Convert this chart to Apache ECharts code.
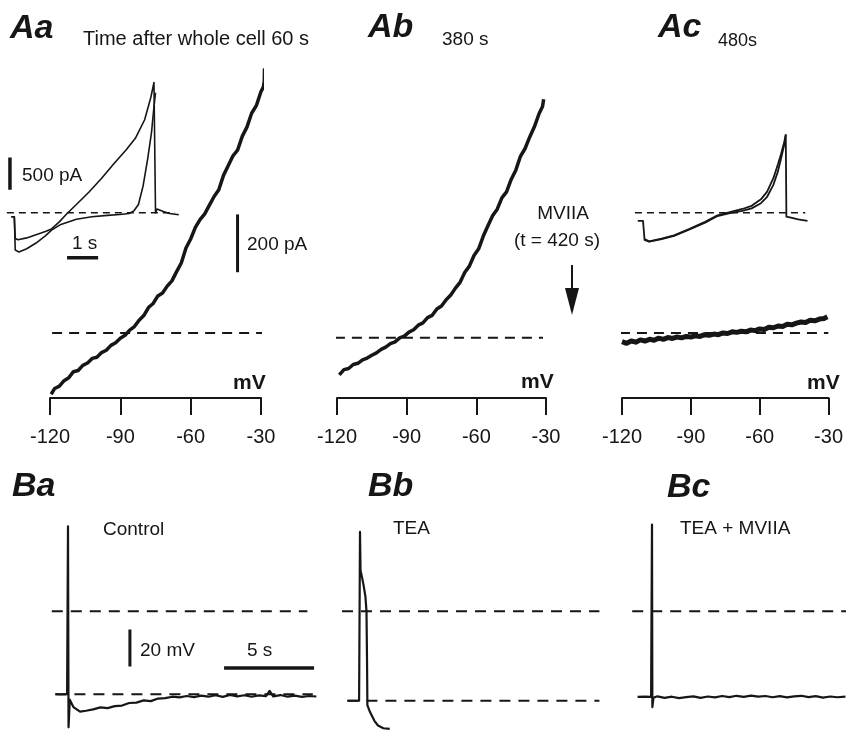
<!DOCTYPE html>
<html>
<head>
<meta charset="utf-8">
<script src="https://cdn.jsdelivr.net/npm/echarts@6/dist/echarts.min.js"></script>
<style>
  html, body { margin: 0; padding: 0; background: #fff; }
  #chart { width: 846px; height: 731px; }
</style>
</head>
<body>
<div id="chart"></div>
<script>
// ---- A: ramp I-V curves (mV, pA) ----
const ivAaMv = [-119.5,-118,-116,-114,-112,-110,-108,-106,-104,-102,-100,-98,-96,-94,-92,-90,-88,-86,-84,-82,-80,-78,-76,-74,-72,-70,-68,-66,-64,-62,-60,-58,-56,-54,-52,-50,-48,-46,-44,-42,-40,-38,-36,-34,-32,-30,-29,-28.6,-28.5];
const ivAaPa = [-212,-192,-184,-165,-155,-134,-130,-112,-104,-88,-84,-68,-60,-43,-34,-18,-8,10,22,44,60,88,102,128,138,162,180,212,242,294,325,365,392,412,442,472,495,545,578,612,632,680,712,760,786,835,850,870,915];

const ivAbMv = [-119,-117,-115,-113,-111,-109,-107,-105,-103,-101,-99,-97,-95,-93,-91,-89,-87,-85,-83,-81,-79,-77,-75,-73,-71,-69,-67,-65,-63,-61,-59,-57,-55,-53,-51,-49,-47,-45,-43,-41,-39,-37,-35,-33,-31.5,-31];
const ivAbPa = [-128,-110,-106,-92,-88,-76,-70,-60,-52,-40,-32,-20,-14,0,6,20,28,44,52,70,78,100,110,132,148,172,192,226,248,285,308,352,388,422,445,484,505,548,580,628,655,695,730,775,800,825];

const ivAcMv = [-120,-118,-116,-114,-112,-110,-108,-106,-104,-102,-100,-98,-96,-94,-92,-90,-88,-86,-84,-82,-80,-78,-76,-74,-72,-70,-68,-66,-64,-62,-60,-58,-56,-54,-52,-50,-48,-46,-44,-42,-40,-38,-36,-34,-32,-30.5];
const ivAcPa = [-30,-36,-28,-32,-24,-28,-22,-25,-18,-22,-16,-19,-14,-17,-12,-14,-10,-12,-6,-8,-4,-6,0,-2,4,2,6,4,10,8,14,12,20,18,24,22,30,28,34,38,36,44,42,48,50,56];

const mvTicks = [-120, -90, -60, -30];

// ---- A insets: current vs time (s, pA) ----
const insAa1T = [-0.1,0,0.03,0.12,0.4,0.7,1.0,1.2,1.45,1.7,2.0,2.4,2.8,3.2,3.6,3.9,4.2,4.4,4.5,4.55,4.6,4.8,5.0,5.3];
const insAa1Pa = [-60,-60,-400,-420,-390,-340,-290,-250,-140,-10,130,320,530,760,980,1160,1450,1800,2030,0,60,20,-10,-30];
const insAa2T = [-0.1,0,0.03,0.15,0.4,0.7,1.0,1.2,1.5,2.0,2.5,3.0,3.4,3.7,3.85,4.0,4.15,4.3,4.42,4.5,4.55];
const insAa2Pa = [-60,-60,-580,-610,-560,-470,-360,-270,-180,-100,-60,-40,-25,-10,30,130,420,850,1250,1650,1870];

const insAc1T = [-0.17,0,0.05,0.2,0.6,1.0,1.5,2.0,2.4,2.8,3.2,3.5,3.8,4.0,4.2,4.35,4.45,4.55,4.6,4.62,4.8,5.0,5.3];
const insAc1Pa = [-125,-125,-420,-450,-410,-360,-260,-155,-50,-5,30,70,150,250,435,650,850,1060,1215,-60,-80,-100,-125];
const insAc2T = [0.05,0.2,0.6,1.0,1.5,2.0,2.4,2.8,3.2,3.5,3.8,4.0,4.2,4.35,4.45,4.55,4.6];
const insAc2Pa = [-410,-445,-400,-350,-250,-140,-40,10,60,110,210,330,540,760,920,1100,1215];

// ---- B: membrane potential (s, mV) ----
const baT = [-0.7,-0.4,-0.05,0,0.03,0.1,0.3,0.67,1.0,1.4,1.8,2.2,2.6,3.0,3.4,3.8,4.2,4.6,5.0,5.4,5.8,6.2,6.6,7.0,7.4,7.8,8.2,8.6,9.0,9.4,9.8,10.2,10.6,11.0,11.2,11.4,11.8,12.2,12.6,13.0,13.4,13.8];
const baMv = [-45,-45.2,-45,46,-63,-48,-52,-54.5,-54,-53.3,-52.2,-52.6,-51.5,-51.2,-49.8,-49.6,-48.4,-48.8,-47.4,-47.2,-46.4,-46.8,-46,-46.6,-45.8,-46.4,-45.6,-46.5,-45.4,-46.2,-45.6,-46.4,-45.7,-46.1,-43.2,-46.2,-45.5,-46.4,-45.8,-46.5,-46,-46.3];

const bbT = [-0.7,-0.05,0,0.03,0.1,0.2,0.3,0.36,0.39,0.41,0.55,0.8,1.0,1.3,1.65];
const bbMv = [-48.6,-48.6,43,22,19,14,8,0,-26,-51,-54.6,-59.5,-62,-63.5,-63.8];

const bcT = [-0.8,-0.4,-0.05,0,0.02,0.08,0.3,0.7,1.1,1.5,1.9,2.3,2.7,3.1,3.5,3.9,4.3,4.7,5.1,5.5,5.9,6.3,6.7,7.1,7.5,7.9,8.3,8.7,9.1,9.5,9.9,10.3,10.75];
const bcMv = [-46.5,-46.3,-46.5,47,-52,-47,-46.2,-47,-46.4,-47.2,-46.6,-46.2,-47,-46.3,-46.8,-46,-46.6,-45.9,-46.5,-45.8,-46.4,-46,-46.7,-46.1,-46.8,-46.2,-45.9,-46.6,-46.1,-46.9,-46.3,-46.7,-46.4];

// reference (dashed) levels
const baLevels = [0, -45];
const bbLevels = [0, -48.6];
const bcLevels = [0];

const ink = '#161616';
const font = '"Liberation Sans", Arial, Helvetica, sans-serif';

const zip = (xs, ys) => xs.map((x, i) => [x, ys[i]]);

function trace(xs, ys, idx, width) {
  return {
    type: 'line', xAxisIndex: idx, yAxisIndex: idx, data: zip(xs, ys),
    symbol: 'none', clip: false, silent: true, z: 3,
    lineStyle: { color: ink, width: width, join: 'round' }
  };
}
function dashed(x0, x1, y, idx, pattern, width) {
  return {
    type: 'line', xAxisIndex: idx, yAxisIndex: idx, data: [[x0, y], [x1, y]],
    symbol: 'none', clip: false, silent: true, z: 2,
    lineStyle: { color: ink, width: width, type: pattern }
  };
}
function bar(xs, ys, idx, width) {
  return {
    type: 'line', xAxisIndex: idx, yAxisIndex: idx, data: zip(xs, ys),
    symbol: 'none', clip: false, silent: true, z: 3,
    lineStyle: { color: ink, width: width, cap: 'butt' }
  };
}

const myChart = echarts.init(document.getElementById('chart'));

const mvAxis = (idx) => ({
  gridIndex: idx, type: 'value', min: -120, max: -30, interval: 30,
  axisLine: { show: true, onZero: false, lineStyle: { color: ink, width: 2 } },
  axisTick: { show: true, inside: false, length: 17, lineStyle: { color: ink, width: 2 } },
  axisLabel: {
    show: true, color: ink, fontSize: 20, fontFamily: font, margin: 29,
    showMinLabel: true, showMaxLabel: true,
    customValues: mvTicks
  },
  splitLine: { show: false }
});
const hiddenX = (idx, min, max) => ({ gridIndex: idx, type: 'value', min, max, show: false, splitLine: { show: false } });
const hiddenY = (idx, min, max) => ({ gridIndex: idx, type: 'value', min, max, show: false, splitLine: { show: false } });

const label = (text, x, y, size) => ({
  type: 'text', x: x, y: y, silent: true,
  style: {
    text: text, fill: ink, fontSize: size, fontFamily: font,
    textAlign: 'left', textVerticalAlign: 'middle'
  }
});

function styled(text, x, y, size, weight, styleExtra) {
  const el = label(text, x, y, size);
  el.style.fontWeight = weight;
  Object.assign(el.style, styleExtra || {});
  return el;
}

let option = {
  backgroundColor: '#fff',
  animation: false,
  grid: [
    { left: 50, top: 65.5, width: 211, height: 332.5 },   // Aa
    { left: 337, top: 65.5, width: 209, height: 332.5 },  // Ab
    { left: 622, top: 65.5, width: 210, height: 332.5 },  // Ac
    { left: 5, top: 78, width: 180, height: 183 },        // Aa inset
    { left: 633.7, top: 78, width: 180, height: 183 },    // Ac inset
    { left: 46.4, top: 519, width: 270, height: 213 },    // Ba
    { left: 338.4, top: 519, width: 270, height: 213 },   // Bb
    { left: 630.4, top: 519, width: 215.6, height: 213 }  // Bc (runs to the edge)
  ],
  xAxis: [
    mvAxis(0), mvAxis(1), mvAxis(2),
    hiddenX(3, -0.3, 5.5), hiddenX(4, -0.3, 5.5),
    hiddenX(5, -1.2, 13.8), hiddenX(6, -1.2, 13.8), hiddenX(7, -1.2, 10.78)
  ],
  yAxis: [
    hiddenY(0, -225, 925), hiddenY(1, -208, 942), hiddenY(2, -225, 925),
    hiddenY(3, -750, 2100), hiddenY(4, -750, 2100),
    hiddenY(5, -65, 50), hiddenY(6, -65, 50), hiddenY(7, -65, 50)
  ],
  series: [
    // A main I-V
    dashed(-119.1, -29.1, 0, 0, [10, 7], 2),
    dashed(-120.9, -31.3, 0, 1, [10, 7], 2),
    dashed(-120.9, -30.1, 0, 2, [10, 7], 2),
    trace(ivAaMv, ivAaPa, 0, 3.5),
    trace(ivAbMv, ivAbPa, 1, 3.5),
    trace(ivAcMv, ivAcPa, 2, 5),
    bar([-40, -40], [210, 410], 0, 3),
    // insets
    dashed(-0.24, 5.18, 0, 3, [7, 5], 1.5),
    dashed(-0.26, 5.23, 0, 4, [7, 5], 1.5),
    trace(insAa1T, insAa1Pa, 3, 1.6),
    trace(insAa2T, insAa2Pa, 3, 1.6),
    trace(insAc1T, insAc1Pa, 4, 1.8),
    trace(insAc2T, insAc2Pa, 4, 1.8),
    bar([-0.14, -0.14], [360, 860], 3, 3.5),
    bar([1.7, 2.7], [-700, -700], 3, 3.5),
    // B voltage traces
    dashed(-0.9, 13.3, baLevels[0], 5, [11, 8], 2),
    dashed(-0.7, 13.6, baLevels[1], 5, [11, 8], 2),
    dashed(-1.0, 13.3, bbLevels[0], 6, [11, 8], 2),
    dashed(-0.7, 13.3, bbLevels[1], 6, [11, 8], 2),
    dashed(-1.1, 10.78, bcLevels[0], 7, [11, 8], 2),
    trace(baT, baMv, 5, 2.2),
    trace(bbT, bbMv, 6, 2.2),
    trace(bcT, bcMv, 7, 2.2),
    bar([3.44, 3.44], [-30, -10], 5, 3),
    bar([8.67, 13.67], [-30.8, -30.8], 5, 3.5)
  ],
  graphic: [
    styled('Aa', 10, 28.5, 34, 'bold', { fontStyle: 'italic' }),
    label('Time after whole cell 60 s', 83, 39.5, 20),
    styled('Ab', 368, 28, 34, 'bold', { fontStyle: 'italic' }),
    label('380 s', 442, 39.5, 19),
    styled('Ac', 658, 28, 34, 'bold', { fontStyle: 'italic' }),
    label('480s', 718, 41, 18),
    styled('Ba', 12, 487, 34, 'bold', { fontStyle: 'italic' }),
    styled('Bb', 368, 487, 34, 'bold', { fontStyle: 'italic' }),
    styled('Bc', 667, 488, 34, 'bold', { fontStyle: 'italic' }),
    label('500 pA', 22, 175.5, 19),
    label('1 s', 72, 244, 19),
    label('200 pA', 247, 245, 19),
    styled('mV', 233, 383, 21, 'bold'),
    styled('mV', 521, 382, 21, 'bold'),
    styled('mV', 807, 383, 21, 'bold'),
    styled('MVIIA', 563, 213.5, 19, 'normal', { textAlign: 'center' }),
    styled('(t = 420 s)', 557, 241, 19, 'normal', { textAlign: 'center' }),
    {
      type: 'line', silent: true,
      shape: { x1: 572, y1: 265, x2: 572, y2: 292 },
      style: { stroke: ink, lineWidth: 2 }
    },
    {
      type: 'polygon', silent: true,
      shape: { points: [[565, 288], [579, 288], [572, 315]] },
      style: { fill: ink }
    },
    label('Control', 103, 530, 19),
    label('TEA', 393, 529, 19),
    label('TEA + MVIIA', 680, 529, 19),
    label('20 mV', 140, 651, 19),
    label('5 s', 247, 651, 19)
  ]
};

myChart.setOption(option);
window.addEventListener('resize', () => myChart.resize());
</script>
</body>
</html>
